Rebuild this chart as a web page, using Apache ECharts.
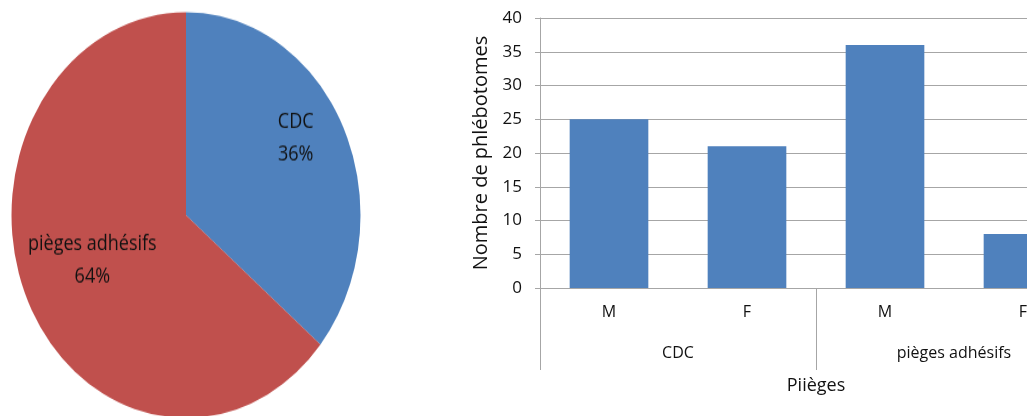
<!DOCTYPE html>
<html>
<head>
<meta charset="utf-8">
<script src="https://cdn.jsdelivr.net/npm/echarts@6/dist/echarts.min.js"></script>
<style>
  html, body { margin: 0; padding: 0; background: #fff; overflow: hidden; }
  /* the bar chart runs past the right edge of the window, as in the original */
  #bar-graph { position: absolute; left: 0; top: 0; width: 1100px; height: 416px; }
  /* the pie in the original is stretched vertically into an ellipse */
  #pie-graph { position: absolute; left: 0; top: 0; width: 372px; height: 370px;
               transform-origin: 0 0; transform: scaleY(1.163); }
</style>
</head>
<body>
<div id="bar-graph"></div>
<div id="pie-graph"></div>
<script>
var pieNames = ['CDC', 'pièges adhésifs'];
var pieValues = [36, 64];
var sexes = ['M', 'F', 'M', 'F'];
var trapGroups = ['CDC', 'pièges adhésifs'];
var counts = [25, 21, 36, 8];

var font = 'Open Sans';
var grey = '#a6a6a6';
var ink = '#111';

var barChart = echarts.init(document.getElementById('bar-graph'));
barChart.setOption({
  animation: false,
  textStyle: { fontFamily: font },
  grid: { left: 540, top: 18, right: 8, bottom: 128, containLabel: false },
  xAxis: [
    {
      type: 'category',
      data: sexes,
      axisLine: { lineStyle: { color: grey } },
      axisTick: { show: false },
      axisLabel: { color: ink, fontSize: 16, margin: 16, interval: 0 }
    },
    {
      type: 'category',
      data: trapGroups,
      position: 'bottom',
      axisLine: { show: false },
      axisTick: { show: true, length: 82, interval: 0, lineStyle: { color: grey } },
      axisLabel: { color: ink, fontSize: 16, margin: 57, interval: 0 },
      name: 'Piièges',
      nameLocation: 'middle',
      nameGap: 89,
      nameTextStyle: { color: ink, fontSize: 18 }
    }
  ],
  yAxis: {
    type: 'value',
    min: 0,
    max: 40,
    interval: 5,
    name: 'Nombre de phlébotomes',
    nameLocation: 'middle',
    nameGap: 45,
    nameTextStyle: { color: ink, fontSize: 20 },
    axisLine: { show: true, lineStyle: { color: grey } },
    axisTick: { show: true, length: 5, lineStyle: { color: grey } },
    axisLabel: { color: ink, fontSize: 17, margin: 18 },
    splitLine: { lineStyle: { color: grey, width: 1 } }
  },
  series: [{
    type: 'bar',
    data: counts,
    barCategoryGap: '43%',
    itemStyle: { color: '#4f81bd' }
  }]
});

var pieChart = echarts.init(document.getElementById('pie-graph'));
pieChart.setOption({
  animation: false,
  textStyle: { fontFamily: font },
  color: ['#4f81bd', '#c0504d'],
  series: [{
    type: 'pie',
    center: [186, 185],
    radius: [0, 174.5],
    startAngle: 90,
    data: pieNames.map(function (n, i) {
      return { name: n, value: pieValues[i] };
    }),
    label: {
      position: 'inside',
      formatter: '{b}\n{d}%',
      color: ink,
      fontSize: 18,
      lineHeight: 28
    },
    labelLayout: function (p) {
      return p.dataIndex === 0 ? { dx: 28, dy: -28 } : { dx: -12, dy: 0 };
    },
    itemStyle: { borderWidth: 0 }
  }]
});
</script>
</body>
</html>
